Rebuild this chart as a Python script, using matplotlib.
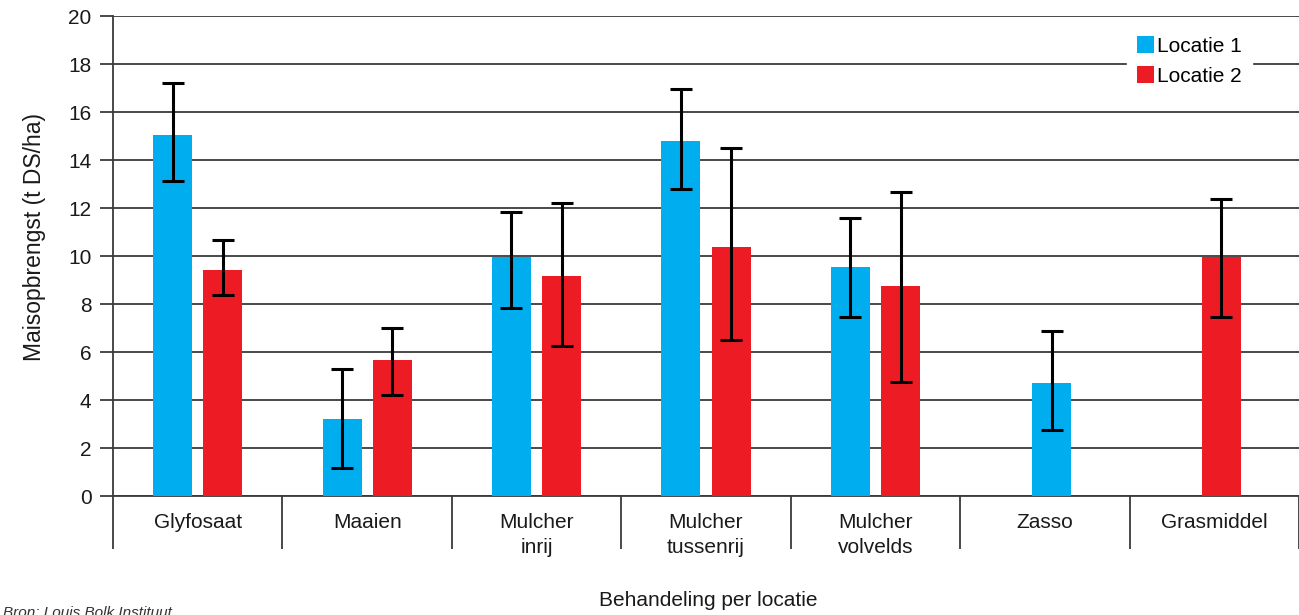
import matplotlib
matplotlib.use("Agg")
import matplotlib.pyplot as plt
import numpy as np

plt.rcParams['font.family'] = ['Liberation Sans', 'DejaVu Sans']

categories = ["Glyfosaat", "Maaien", "Mulcher\ninrij", "Mulcher\ntussenrij",
              "Mulcher\nvolvelds", "Zasso", "Grasmiddel"]
loc1_values = [15.05, 3.2, 9.95, 14.78, 9.53, 4.7, None]
loc1_low = [13.12, 1.15, 7.82, 12.8, 7.44, 2.75, None]
loc1_high = [17.2, 5.3, 11.82, 16.95, 11.6, 6.88, None]
loc2_values = [9.42, 5.65, 9.15, 10.37, 8.73, None, 9.95]
loc2_low = [8.37, 4.2, 6.25, 6.5, 4.76, None, 7.44]
loc2_high = [10.65, 7.0, 12.22, 14.52, 12.66, None, 12.37]
series_names = ["Locatie 1", "Locatie 2"]
yticks = [0, 2, 4, 6, 8, 10, 12, 14, 16, 18, 20]

blue = "#00AEEF"
red = "#ED1C24"
gridc = "#3a3a3a"
txtc = "#1a1a1a"

fig = plt.figure(figsize=(12.99, 6.15), dpi=100)
ax = fig.add_axes([113/1299, 1-496/615, 1-113/1299, 480/615])

n = len(categories)
x = np.arange(n)
off = 0.148
w = 0.23

series = [(loc1_values, loc1_low, loc1_high, blue, -1),
          (loc2_values, loc2_low, loc2_high, red, 1)]
for i, (vals, lo, hi, col, sgn) in enumerate(series):
    first = True
    for j in range(n):
        v = vals[j]
        if v is None:
            continue
        other = series[1 - i][0][j]
        pos = x[j] + (sgn * off if other is not None else 0.04)
        ax.bar(pos, v, width=w, color=col, zorder=3,
               label=series_names[i] if first else None)
        first = False
        ax.errorbar(pos, v, yerr=[[v - lo[j]], [hi[j] - v]], fmt='none',
                    ecolor='black', elinewidth=2.2, capsize=8, capthick=2.2, zorder=4)

ax.set_xlim(-0.5, n - 0.5)
ax.set_ylim(0, 20)
ax.set_yticks(yticks)
ax.yaxis.grid(True, color=gridc, linewidth=1.3, zorder=0)
ax.set_axisbelow(True)
for s in ['top', 'right']:
    ax.spines[s].set_visible(False)
for s in ['left', 'bottom']:
    ax.spines[s].set_color(gridc)
    ax.spines[s].set_linewidth(1.3)
ax.tick_params(axis='y', length=9.4, width=1.3, color=gridc, pad=6, labelsize=15, labelcolor=txtc)

ax.set_xticks(x)
ax.set_xticklabels(categories, fontsize=15, color=txtc, linespacing=1.4, va='top')
ax.tick_params(axis='x', which='major', length=0, pad=12)
ax.set_xticks(np.arange(-0.5, n, 1.0), minor=True)
ax.tick_params(axis='x', which='minor', length=38, width=1.3, color=gridc, direction='out')

fig.text(35/1299, 1-237/615, "Maisopbrengst (t DS/ha)", ha='center', va='center',
         rotation=90, fontsize=16.5, color=txtc)
fig.text(708/1299, 1-600/615, "Behandeling per locatie", ha='center', va='center',
         fontsize=15, color=txtc)

leg = ax.legend(loc='upper right', fontsize=15,
                frameon=True, fancybox=False, framealpha=1, edgecolor='white',
                handlelength=0.8, handleheight=0.85, handletextpad=0.15,
                labelspacing=0.5, borderpad=0.5, borderaxespad=0)
leg.set_bbox_to_anchor((1252/1299, 1-26/615), transform=fig.transFigure)

fig.text(0.002, 1-606/615, "Bron: Louis Bolk Instituut", ha='left', va='top',
         fontsize=11, style='italic', color='#333333')

fig.savefig("out.png", dpi=100)
